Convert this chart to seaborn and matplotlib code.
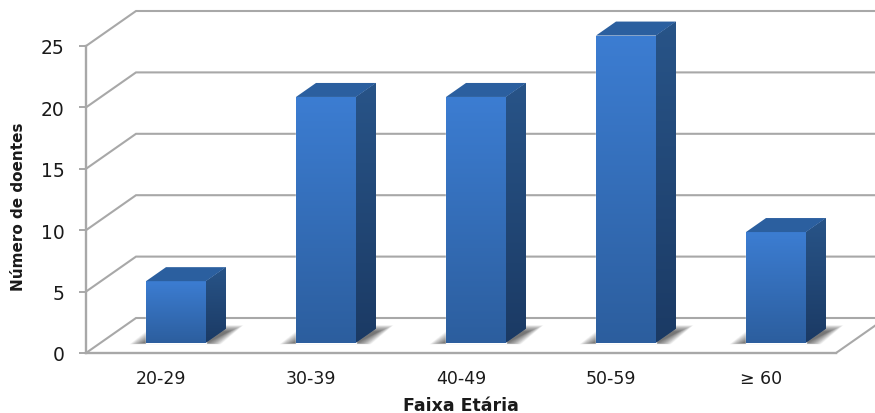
import numpy as np
import pandas as pd
import matplotlib
matplotlib.use("Agg")
import matplotlib.pyplot as plt
from matplotlib.colors import LinearSegmentedColormap
from matplotlib.patches import Polygon
import seaborn as sns

# Patients per age group
age_groups = ["20-29", "30-39", "40-49", "50-59", "≥ 60"]
patients = [5, 20, 20, 25, 9]
y_ticks = [0, 5, 10, 15, 20, 25]

GREY = "#a8a8a8"
BAR_WIDTH = 0.4

# Pseudo-3D projection, expressed in data units
DEPTH_X = 1 / 3        # wall depth along the category axis
DEPTH_Y = 2.85         # wall depth along the value axis
FLOOR_X = 0.1          # bars sit towards the middle of the floor
FLOOR_Y = 0.85         # bars stand slightly behind the front edge
SIDE_X = 20 / 150      # bar depth
SIDE_Y = 14 / 12.28

sns.set_theme(style="white")
plt.rcParams["font.family"] = ["DejaVu Sans"]

W, H = 875, 414
fig = plt.figure(figsize=(W / 100, H / 100), dpi=100, facecolor="white")
ax = fig.add_axes([86 / W, 1 - 354 / H, 750 / W, 307 / H])

df = pd.DataFrame({"group": age_groups, "patients": patients})
sns.barplot(data=df, x="group", y="patients", order=age_groups, width=BAR_WIDTH,
            color="#3266ac", saturation=1, ax=ax, zorder=4, clip_on=False)

ax.set_xlim(-0.5, 4.5)
ax.set_ylim(0, 25)

# Wall and floor lines running back from the left axis
for v in y_ticks:
    ax.plot([-0.5, -0.5 + DEPTH_X, 5.0], [v, v + DEPTH_Y, v + DEPTH_Y],
            color=GREY, lw=1.5, clip_on=False, zorder=1, solid_joinstyle="miter")
ax.plot([4.5, 4.5 + DEPTH_X], [0, DEPTH_Y], color=GREY, lw=1.5, clip_on=False, zorder=1)

v_front = LinearSegmentedColormap.from_list("front", ["#2c5e9e", "#3c7dd2"])
v_side = LinearSegmentedColormap.from_list("side", ["#1b3a64", "#285488"])
ramp = np.linspace(0, 1, 256)[:, None]


def gradient(cmap, extent, clip):
    im = ax.imshow(ramp, cmap=cmap, vmin=0, vmax=1, origin="lower", extent=extent,
                   aspect="auto", zorder=5, interpolation="bilinear")
    im.set_clip_box(fig.bbox)
    im.set_clip_path(clip.get_path(), clip.get_transform())


for bar, value in zip(list(ax.patches), patients):
    bar.set_x(bar.get_x() + FLOOR_X)
    x0 = bar.get_x()
    x1 = x0 + bar.get_width()
    base = FLOOR_Y
    top = value + FLOOR_Y
    bar.set_y(base)
    bar.set_height(value)

    # Soft shadow on the floor, built from many faint nested layers
    for k in np.linspace(0, 1, 40):
        inset = 0.10 * k
        ax.add_patch(Polygon(
            [(x0 - 0.11 + inset, base - 0.14 + 0.12 * k),
             (x1 + 0.10 - inset, base - 0.14 + 0.12 * k),
             (x1 + 0.25 - inset, base + 1.42 - 0.55 * k),
             (x0 + 0.05 + inset, base + 1.42 - 0.55 * k)],
            closed=True, facecolor="#333333", edgecolor="none",
            alpha=0.024, zorder=2, clip_on=False))

    # Gradient front face
    gradient(v_front, (x0, x1, base, top), bar)

    # Side face
    side = Polygon([(x1, base), (x1 + SIDE_X, base + SIDE_Y),
                    (x1 + SIDE_X, top + SIDE_Y), (x1, top)],
                   closed=True, facecolor="#234b7c", edgecolor="none", zorder=4,
                   clip_on=False)
    ax.add_patch(side)
    gradient(v_side, (x1, x1 + SIDE_X, base, top + SIDE_Y), side)

    # Top face
    ax.add_patch(Polygon([(x0, top), (x1, top), (x1 + SIDE_X, top + SIDE_Y),
                          (x0 + SIDE_X, top + SIDE_Y)],
                         closed=True, facecolor="#2b5f9f", edgecolor="none", zorder=5,
                         clip_on=False))

ax.set_xlim(-0.5, 4.5)
ax.set_ylim(0, 25)

# Axes furniture
sns.despine(ax=ax, top=True, right=True)
for side_name in ("left", "bottom"):
    ax.spines[side_name].set_color(GREY)
    ax.spines[side_name].set_linewidth(1.7)
ax.set_yticks(y_ticks)
ax.tick_params(axis="y", length=5, width=1.4, color=GREY, left=True, labelsize=13.5,
               labelcolor="#1a1a1a", pad=10.5)
ax.tick_params(axis="x", length=0, labelsize=12.5, labelcolor="#1a1a1a", pad=11.5)
ax.set_xlabel("")
ax.set_ylabel("")

fig.text(461 / W, 1 - 406 / H, "Faixa Etária", ha="center", va="center",
         fontsize=12.5, fontweight="bold", color="#1a1a1a")
fig.text(19 / W, 1 - 207 / H, "Número de doentes", ha="center", va="center",
         rotation=90, fontsize=11, fontweight="bold", color="#1a1a1a")

fig.savefig("out.png", dpi=100)
